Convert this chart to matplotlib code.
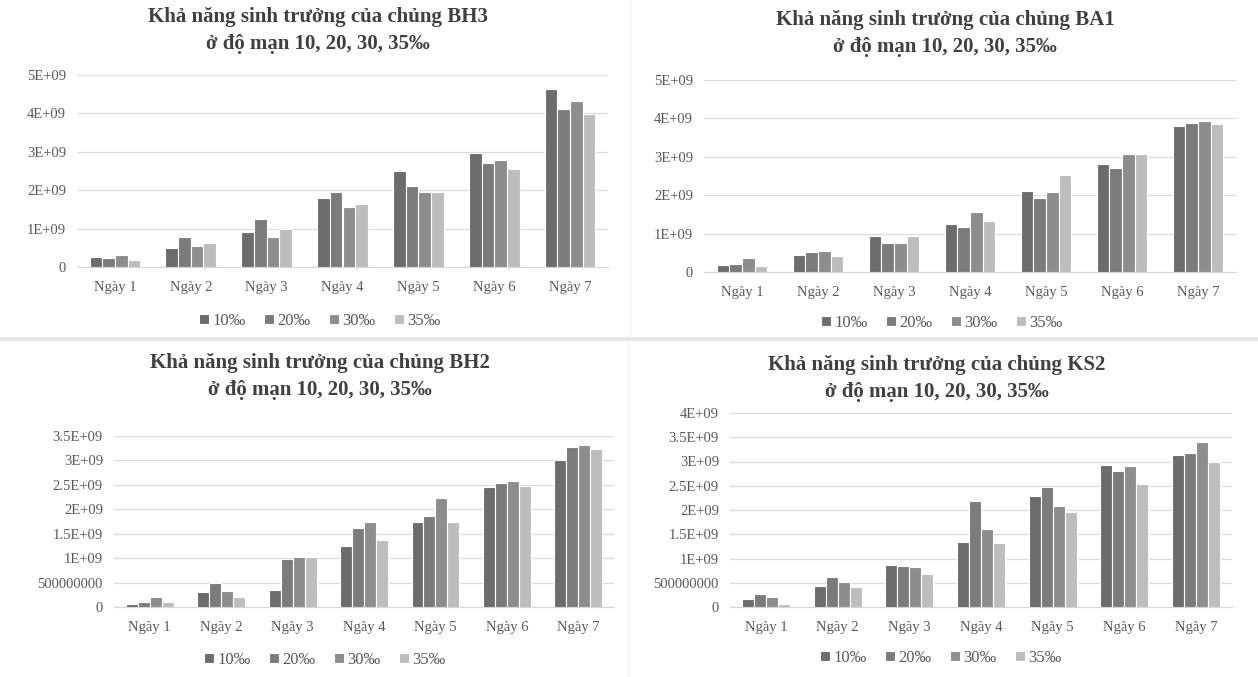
import matplotlib
matplotlib.use("Agg")
import matplotlib.pyplot as plt
import numpy as np

plt.rcParams['font.family'] = ['Liberation Serif', 'DejaVu Serif']

days = ["Ngày 1", "Ngày 2", "Ngày 3", "Ngày 4", "Ngày 5", "Ngày 6", "Ngày 7"]
salinity = ["10‰", "20‰", "30‰", "35‰"]
colors = ["#6c6c6c", "#7b7b7b", "#8d8d8d", "#bdbdbd"]

# Cell density per day (cells/mL) at each salinity level
bh3_10 = [0.26e9, 0.50e9, 0.92e9, 1.80e9, 2.50e9, 2.98e9, 4.63e9]
bh3_20 = [0.23e9, 0.78e9, 1.25e9, 1.95e9, 2.11e9, 2.71e9, 4.11e9]
bh3_30 = [0.30e9, 0.55e9, 0.78e9, 1.57e9, 1.96e9, 2.79e9, 4.31e9]
bh3_35 = [0.18e9, 0.62e9, 0.98e9, 1.64e9, 1.96e9, 2.56e9, 3.98e9]

ba1_10 = [0.17e9, 0.43e9, 0.93e9, 1.25e9, 2.10e9, 2.82e9, 3.81e9]
ba1_20 = [0.22e9, 0.52e9, 0.76e9, 1.17e9, 1.92e9, 2.71e9, 3.87e9]
ba1_30 = [0.37e9, 0.55e9, 0.76e9, 1.57e9, 2.08e9, 3.08e9, 3.93e9]
ba1_35 = [0.16e9, 0.42e9, 0.93e9, 1.33e9, 2.52e9, 3.06e9, 3.85e9]

bh2_10 = [0.07e9, 0.31e9, 0.35e9, 1.24e9, 1.75e9, 2.45e9, 3.00e9]
bh2_20 = [0.10e9, 0.50e9, 0.99e9, 1.62e9, 1.87e9, 2.53e9, 3.27e9]
bh2_30 = [0.21e9, 0.32e9, 1.03e9, 1.75e9, 2.24e9, 2.58e9, 3.32e9]
bh2_35 = [0.10e9, 0.21e9, 1.03e9, 1.38e9, 1.75e9, 2.48e9, 3.24e9]

ks2_10 = [0.16e9, 0.44e9, 0.87e9, 1.35e9, 2.28e9, 2.93e9, 3.14e9]
ks2_20 = [0.27e9, 0.62e9, 0.85e9, 2.18e9, 2.48e9, 2.81e9, 3.17e9]
ks2_30 = [0.20e9, 0.51e9, 0.83e9, 1.60e9, 2.08e9, 2.91e9, 3.41e9]
ks2_35 = [0.06e9, 0.41e9, 0.69e9, 1.31e9, 1.96e9, 2.53e9, 3.00e9]

ticks_5e9 = [0, 1e9, 2e9, 3e9, 4e9, 5e9]
ticklabels_5e9 = ["0", "1E+09", "2E+09", "3E+09", "4E+09", "5E+09"]
ticks_35e8 = [0, 0.5e9, 1e9, 1.5e9, 2e9, 2.5e9, 3e9, 3.5e9]
ticklabels_35e8 = ["0", "500000000", "1E+09", "1.5E+09", "2E+09", "2.5E+09", "3E+09", "3.5E+09"]
ticks_4e9 = [0, 0.5e9, 1e9, 1.5e9, 2e9, 2.5e9, 3e9, 3.5e9, 4e9]
ticklabels_4e9 = ["0", "500000000", "1E+09", "1.5E+09", "2E+09", "2.5E+09", "3E+09", "3.5E+09", "4E+09"]

W, H = 1258, 677
fig = plt.figure(figsize=(W / 100, H / 100), dpi=100)
fig.patch.set_facecolor("white")


def px_axes(left, top, right, bottom):
    return fig.add_axes([left / W, 1 - bottom / H, (right - left) / W, (bottom - top) / H])


panels = [
    dict(strain="BH3", series=[bh3_10, bh3_20, bh3_30, bh3_35], box=(77, 75, 608, 267),
         ticks=ticks_5e9, labels=ticklabels_5e9, title_xy=(318, 17), legend_xy=(320, 321)),
    dict(strain="BA1", series=[ba1_10, ba1_20, ba1_30, ba1_35], box=(704, 80, 1236, 272),
         ticks=ticks_5e9, labels=ticklabels_5e9, title_xy=(945, 20), legend_xy=(942, 323)),
    dict(strain="BH2", series=[bh2_10, bh2_20, bh2_30, bh2_35], box=(114, 436, 614, 607),
         ticks=ticks_35e8, labels=ticklabels_35e8, title_xy=(320, 363), legend_xy=(325, 660)),
    dict(strain="KS2", series=[ks2_10, ks2_20, ks2_30, ks2_35], box=(730, 413, 1232, 607),
         ticks=ticks_4e9, labels=ticklabels_4e9, title_xy=(937, 365), legend_xy=(941, 658)),
]

text_gray = "#595959"
x = np.arange(len(days))
group = 0.67
bw = group / len(salinity)

for p in panels:
    ax = px_axes(*p["box"])
    for i, (vals, c, lab) in enumerate(zip(p["series"], colors, salinity)):
        offs = -group / 2 + bw * (i + 0.5)
        ax.bar(x + offs, vals, width=bw, color=c, edgecolor="white", linewidth=0.8,
               label=lab, zorder=3)
    ax.set_xlim(-0.5, len(days) - 0.5)
    ax.set_ylim(0, p["ticks"][-1])
    ax.set_yticks(p["ticks"])
    ax.set_yticklabels(p["labels"])
    ax.set_xticks(x)
    ax.set_xticklabels(days)
    ax.tick_params(axis="both", length=0, labelsize=10.5, colors=text_gray)
    ax.tick_params(axis="x", pad=10)
    ax.tick_params(axis="y", pad=8)
    ax.grid(axis="y", color="#dcdcdc", linewidth=0.9, zorder=0)
    ax.set_axisbelow(True)
    for side in ["top", "right", "left"]:
        ax.spines[side].set_visible(False)
    ax.spines["bottom"].set_color("#d6d6d6")
    ax.spines["bottom"].set_zorder(1)

    tx, ty = p["title_xy"]
    fig.text(tx / W, 1 - ty / H, f"Khả năng sinh trưởng của chủng {p['strain']}",
             ha="center", va="center", fontsize=15, fontweight="bold", color="#404040")
    fig.text(tx / W, 1 - (ty + 27) / H, "ở độ mạn 10, 20, 30, 35‰",
             ha="center", va="center", fontsize=15, fontweight="bold", color="#404040")

    lx, ly = p["legend_xy"]
    ax.legend(loc="center", bbox_to_anchor=(lx / W, 1 - ly / H), bbox_transform=fig.transFigure,
              ncol=4, frameon=False, fontsize=12, handlelength=0.6, handleheight=0.6,
              handletextpad=0.2, columnspacing=1.1, labelcolor=text_gray)

# faint separators between the four chart areas
fig.add_artist(plt.Line2D([0, 1], [1 - 339 / H, 1 - 339 / H], transform=fig.transFigure,
                          color="#e6e6e6", linewidth=3))
fig.add_artist(plt.Line2D([630 / W, 630 / W], [1 - 337 / H, 1], transform=fig.transFigure,
                          color="#f0f0f0", linewidth=1))
fig.add_artist(plt.Line2D([628 / W, 628 / W], [0, 1 - 342 / H], transform=fig.transFigure,
                          color="#f0f0f0", linewidth=1))

fig.savefig("out.png", dpi=100, facecolor="white")
